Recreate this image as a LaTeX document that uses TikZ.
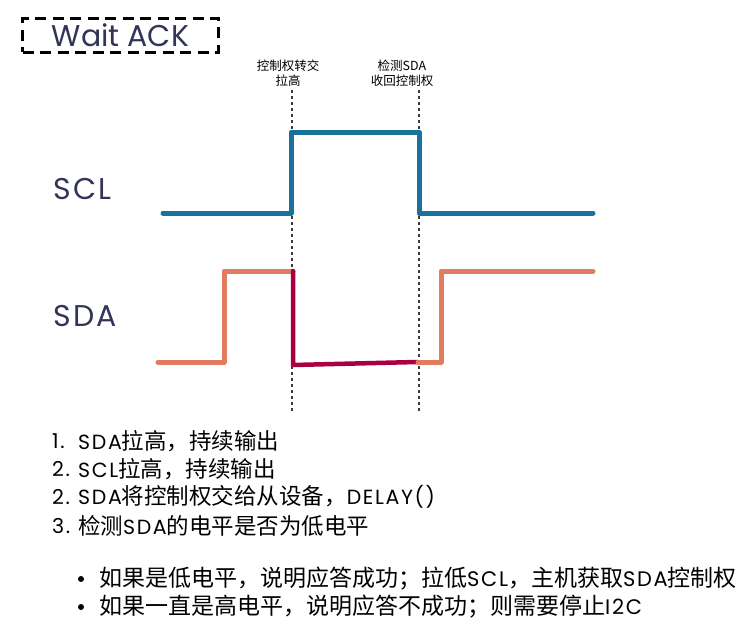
\documentclass[tikz,border=0pt]{standalone}
\usepackage{fontspec}
\newfontfamily\cjk{Noto Sans CJK SC}
\newfontfamily\hand{Poppins}
\newfontfamily\handwide[LetterSpace=8]{Poppins}
\usetikzlibrary{positioning}
\definecolor{sclblue}{RGB}{24,114,156}
\definecolor{sdaorange}{RGB}{225,124,97}
\definecolor{sdared}{RGB}{168,0,64}
\definecolor{labelnavy}{RGB}{50,52,88}
\definecolor{markergray}{RGB}{60,60,60}
\newcommand{\en}[1]{{\handwide\fontsize{20.5}{24}\selectfont #1}}
\newcommand{\ens}[1]{{\handwide\fontsize{21}{24}\selectfont #1}}

\begin{document}
\begin{tikzpicture}[x=1pt,y=-1pt,
  lbl/.style={inner sep=0pt,text=labelnavy,font=\handwide\fontsize{30}{33}\selectfont},
  item/.style={inner sep=0pt,anchor=west,font=\cjk\fontsize{22.5}{26}\selectfont},
  case/.style={item,font=\cjk\fontsize{23}{26}\selectfont},
  note/.style={inner sep=0pt,align=center,font=\cjk\fontsize{12.5}{15.5}\selectfont},
  wave/.style={line width=5pt,line cap=round,line join=round},
  marker/.style={markergray,line width=1.1pt,dash pattern=on 3pt off 3pt}]
  \useasboundingbox (0,0) rectangle (752,634);

  % Title box
  \node[draw,line width=3.5pt,dash pattern=on 11pt off 6.5pt,
        minimum width=196pt,minimum height=34pt,inner sep=0pt,
        text=labelnavy,font=\hand\fontsize{30}{33}\selectfont] (title) at (120.5,35.5) {Wait ACK};

  % Notes above the markers
  \node[note] (hand) at (288,73) {控制权转交\\拉高};
  \node[note] (back) at (402,73) {检测SDA\\收回控制权};

  % Markers
  \draw[marker] (292,90) -- (292,411);
  \draw[marker] (419,90) -- (419,411);

  % Signal names
  \node[lbl,anchor=west] (scl) at (53,189) {SCL};
  \node[lbl,anchor=west] (sda) at (53,316) {SDA};

  % SCL
  \draw[wave,sclblue] (163,213) -- (291,213) -- (291,132) -- (419,132)
    -- (419,213) -- (593,213);

  % SDA, master
  \draw[wave,sdaorange] (158,362) -- (224,362) -- (224,271) -- (293,271);
  % SDA, slave
  \draw[wave,sdared,line width=4.5pt] (293,271) -- (293,365) -- (417,362);
  % SDA, master again
  \draw[wave,sdaorange] (418,362) -- (441,362) -- (441,271) -- (593,271);

  % Steps
  \node[item] (n1) at (52,441) {\en{1.}};
  \node[item] (t1) at (78,441) {\en{SDA}拉高，持续输出};
  \node[item] (n2) at (52,469) {\en{2.}};
  \node[item] (t2) at (78,469) {\en{SCL}拉高，持续输出};
  \node[item] (n3) at (52,497) {\en{2.}};
  \node[item] (t3) at (78,497) {\en{SDA}将控制权交给从设备，\en{DELAY()}};
  \node[item] (n4) at (52,526) {\en{3.}};
  \node[item] (t4) at (78,526) {检测\en{SDA}的电平是否为低电平};

  % Cases
  \fill (81,579) circle (3pt);
  \node[case] (c1) at (99,579) {如果是低电平，说明应答成功；拉低\ens{SCL}，主机获取\ens{SDA}控制权};
  \fill (81,607) circle (3pt);
  \node[case] (c2) at (99,607) {如果一直是高电平，说明应答不成功；则需要停止\ens{I2C}};
\end{tikzpicture}
\end{document}
